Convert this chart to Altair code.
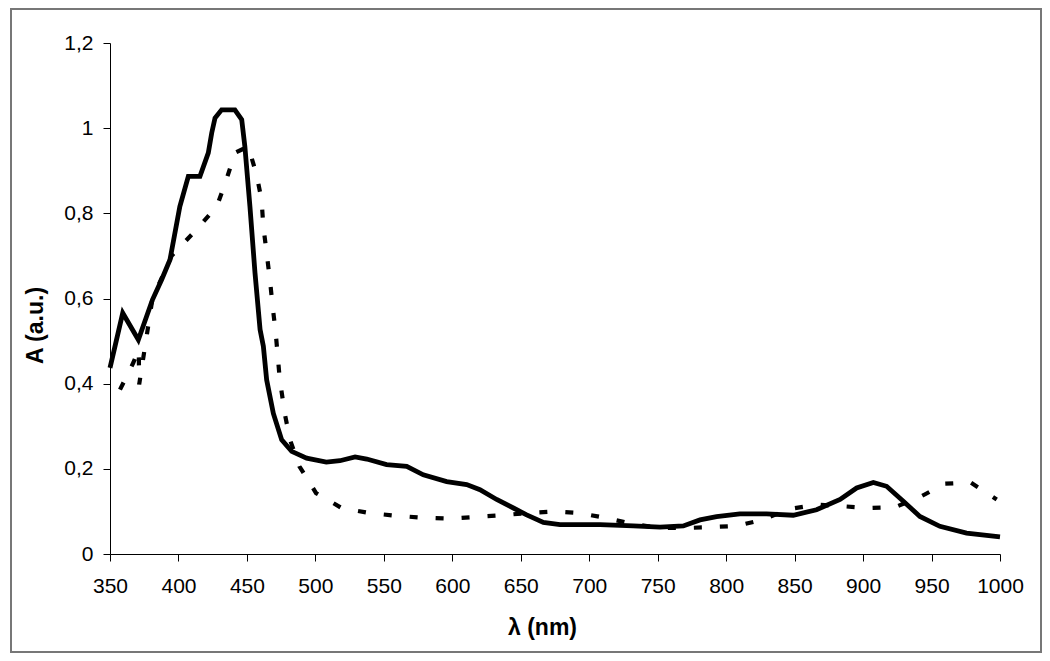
import altair as alt
import pandas as pd

# Solid spectrum
solid_nm = [350, 359.3, 370.7, 381, 387.7, 393.8, 401, 407.2, 415.7, 421.8, 424.3, 426.7,
            431.5, 441.2, 446.2, 448.5, 452.2, 455.9, 459.6, 462, 464.4, 469.3, 475.4,
            482.7, 493.6, 508, 517.9, 529, 537.5, 552, 566.7, 578.8, 595.9, 610.5, 620.2,
            632.4, 644.6, 654.3, 666.5, 678.6, 707.9, 732.2, 751.7, 768.7, 780.9, 793,
            810, 829.5, 849, 866, 883.2, 895.3, 907.5, 917.2, 929.4, 941.5, 956.1, 975.6, 1000]
solid_a = [0.437, 0.566, 0.503, 0.597, 0.644, 0.691, 0.816, 0.887, 0.887, 0.942, 0.989, 1.024,
           1.043, 1.043, 1.02, 0.957, 0.816, 0.66, 0.527, 0.488, 0.409, 0.33, 0.268,
           0.241, 0.225, 0.216, 0.219, 0.228, 0.223, 0.21, 0.206, 0.186, 0.17, 0.163, 0.151,
           0.128, 0.108, 0.092, 0.074, 0.069, 0.069, 0.066, 0.063, 0.066, 0.08, 0.088,
           0.094, 0.094, 0.091, 0.104, 0.128, 0.155, 0.168, 0.159, 0.124, 0.088, 0.065, 0.049, 0.04]

# Dashed spectrum
dash_nm = [357.3, 367, 371, 371.3, 381, 395, 412, 428, 435, 441.3, 451, 457, 460.7, 462,
           464.4, 466.8, 468.8, 471, 474, 477.8, 481.5, 488.3, 500.5, 519.2, 539.9, 558.2,
           578.8, 598.3, 616.6, 636.1, 654.3, 673.8, 693.3, 711.5, 730, 750.5, 770, 788.2,
           807.7, 826, 846.7, 866, 885.6, 903.9, 923.4, 941.6, 959.8, 978.6, 997.6]
dash_a = [0.386, 0.449, 0.48, 0.398, 0.6, 0.7, 0.758, 0.816, 0.879, 0.942, 0.957, 0.891, 0.832, 0.769,
          0.707, 0.644, 0.581, 0.52, 0.41, 0.327, 0.268, 0.206, 0.143, 0.108, 0.096, 0.09,
          0.085, 0.083, 0.087, 0.091, 0.096, 0.1, 0.096, 0.085, 0.072, 0.061, 0.061, 0.063,
          0.066, 0.08, 0.106, 0.116, 0.112, 0.108, 0.11, 0.134, 0.165, 0.168, 0.128]

x_ticks = list(range(350, 1001, 50))
y_ticks = [0, 0.2, 0.4, 0.6, 0.8, 1.0, 1.2]

df_solid = pd.DataFrame({"nm": solid_nm, "A": solid_a})
df_dash = pd.DataFrame({"nm": dash_nm, "A": dash_a})

FONT = "Liberation Sans"

x_enc = alt.X("nm:Q",
              scale=alt.Scale(domain=[350, 1000], nice=False, zero=False),
              axis=alt.Axis(values=x_ticks, title="λ (nm)", grid=False, format="d",
                            domainColor="black", tickColor="black", tickSize=7,
                            labelFont=FONT, labelFontSize=21, labelColor="black",
                            labelPadding=14, labelFlush=False,
                            titleFont=FONT, titleFontSize=23, titleFontWeight="bold",
                            titleColor="black", titleX=432, titleY=73,
                            titleAlign="center", titleBaseline="middle"))
y_enc = alt.Y("A:Q",
              scale=alt.Scale(domain=[0, 1.2], nice=False),
              axis=alt.Axis(values=y_ticks, title="A (a.u.)", grid=False,
                            labelExpr="replace(format(datum.value, '~g'), '.', ',')",
                            domainColor="black", tickColor="black", tickSize=7,
                            labelFont=FONT, labelFontSize=21, labelColor="black",
                            labelPadding=10, labelFlush=False,
                            titleFont=FONT, titleFontSize=23, titleFontWeight="bold",
                            titleColor="black", titleX=-75, titleY=282,
                            titleAlign="center", titleBaseline="middle", titleAngle=270))

dashed = alt.Chart(df_dash).mark_line(color="black", strokeWidth=4.2,
                                      strokeDash=[8, 18]).encode(x=x_enc, y=y_enc)
solid = alt.Chart(df_solid).mark_line(color="black", strokeWidth=4.8).encode(x=x_enc, y=y_enc)

frame = alt.Chart(pd.DataFrame({"k": [0]})).mark_rect(
    fill=None, stroke="#777777", strokeWidth=2).encode(
    x=alt.value(-99), x2=alt.value(931), y=alt.value(-34), y2=alt.value(609))

chart = alt.layer(dashed, solid, frame).properties(
    width=890, height=511,
    background="white",
    autosize=alt.AutoSizeParams(type="none"),
    padding={"left": 102, "top": 35, "right": 42, "bottom": 100},
).configure_view(strokeWidth=0, stroke=None)

chart.save("out.html", embed_options={"renderer": "svg", "actions": False})
